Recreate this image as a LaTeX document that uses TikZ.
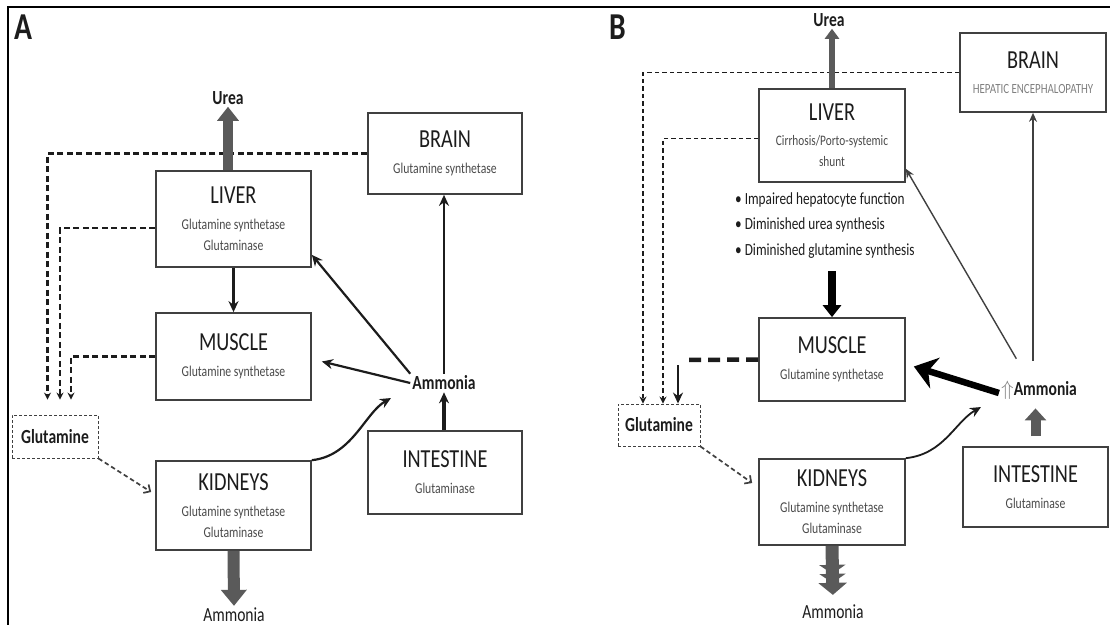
\documentclass[tikz,border=0pt]{standalone}
\usepackage{fontspec}
\setmainfont{Carlito}[FakeStretch=0.78]
\usepackage{tikz}
\usetikzlibrary{positioning, arrows.meta}
\usepackage{xcolor}

\definecolor{boxline}{HTML}{404040}
\definecolor{inktext}{HTML}{1C1C1C}
\definecolor{enzymegray}{HTML}{4A4A4A}
\definecolor{blockgray}{HTML}{5A5A5A}

\newcommand{\organtitle}{\fontsize{26}{28}\selectfont}
\newcommand{\organname}[1]{{\organtitle\color{inktext}#1}}
\newcommand{\enzymefont}{\fontsize{15}{17}\selectfont}
\newcommand{\chemfont}{\fontsize{20}{22}\selectfont\bfseries}

\tikzset{
  organ/.style={draw=boxline, line width=1.7pt, align=center, text=enzymegray, font=\enzymefont},
  chem/.style={font=\chemfont, text=inktext, inner sep=2pt},
  product/.style={font=\fontsize{20}{22}\selectfont, text=inktext, inner sep=2pt},
  glutbox/.style={draw=boxline, densely dashed, line width=0.9pt, font=\chemfont, text=inktext},
  flow/.style={draw=inktext, line width=2.2pt, -{Stealth[length=11pt,width=10pt]}},
  thinflow/.style={draw=boxline, line width=1.4pt, -{Stealth[length=9pt,width=8pt]}},
  feed/.style={draw=inktext, line width=2.4pt, dash pattern=on 6pt off 3.5pt, -{Stealth[length=7pt,width=7pt]}},
  glutflow/.style={draw=boxline, line width=1.7pt, dash pattern=on 4.5pt off 3pt, -{Straight Barb[length=5pt,width=10pt]}},
  panel/.style={font=\fontsize{38}{38}\selectfont\bfseries, text=inktext},
}

\begin{document}
\begin{tikzpicture}[x=1pt, y=-1pt]
  \useasboundingbox (0,0) rectangle (1110,625);
  \draw[line width=2pt] (1110,7) -- (8,7) -- (8,625);

  % ---------- Panel A ----------
  \node[panel] (labelA) at (23,27) {A};
  \node[organ, minimum width=154pt, minimum height=81pt] (brainA) at (445,153.5)
    {\organname{BRAIN}\\[9pt]Glutamine synthetase};
  \node[organ, minimum width=155pt, minimum height=96pt] (liverA) at (233.5,219)
    {\organname{LIVER}\\[9pt]Glutamine synthetase\\[4pt]Glutaminase};
  \node[organ, minimum width=155pt, minimum height=87pt] (muscleA) at (233.5,356.5)
    {\organname{MUSCLE}\\[9pt]Glutamine synthetase};
  \node[organ, minimum width=155pt, minimum height=89pt] (kidneysA) at (233.5,505.5)
    {\organname{KIDNEYS}\\[9pt]Glutamine synthetase\\[4pt]Glutaminase};
  \node[organ, minimum width=154pt, minimum height=83pt] (intestineA) at (445,472.5)
    {\organname{INTESTINE}\\[9pt]Glutaminase};
  \node[glutbox, minimum width=86pt, minimum height=43pt] (glutA) at (55,436.5) {Glutamine};
  \node[chem] (ammoniaA) at (444,383) {Ammonia};
  \node[chem] (ureaA) at (228,98) {Urea};
  \node[product] (ammoniaOutA) at (234,615) {Ammonia};
  \coordinate (kidneyTipA) at (391,398);

  % glutamine returned from the organs
  \draw[feed] (brainA.west) -| ([xshift=-7.5pt,yshift=15pt]glutA.north);
  \draw[feed] ([yshift=-9pt]liverA.west) -| ([xshift=5pt,yshift=15pt]glutA.north);
  \draw[feed] (muscleA.west) -| ([xshift=16pt,yshift=15pt]glutA.north);
  \draw[glutflow] (glutA.south east) -- ([xshift=-4pt,yshift=13.5pt]kidneysA.west);

  % urea and ammonia leaving
  \draw[draw=blockgray, line width=10pt, -{Triangle[length=14pt,width=21pt]}]
    (liverA.north -| ureaA) -- (ureaA.south);
  \draw[draw=blockgray, line width=12pt, -{Triangle[length=16pt,width=25pt]}]
    (kidneysA.south) -- (ammoniaOutA.north);

  % ammonia traffic
  \draw[flow] (liverA.south) -- (muscleA.north);
  \draw[flow] (ammoniaA.north) -- (ammoniaA.north |- brainA.south);
  \draw[flow] (ammoniaA.north west) -- ([yshift=13pt]liverA.south east);
  \draw[flow] (ammoniaA.west) -- ([xshift=10pt,yshift=-5pt]muscleA.east);
  \draw[flow, line width=4pt] (intestineA.north -| ammoniaA) -- (ammoniaA.south);
  \draw[flow] (kidneysA.north east) .. controls +(40,-4) and +(-26,15) .. (kidneyTipA);

  % ---------- Panel B ----------
  \node[panel] (labelB) at (618,27) {B};
  \node[organ, font=\fontsize{14}{16}\selectfont, minimum width=146pt, minimum height=79pt] (brainB) at (1033,72.5)
    {\organname{BRAIN}\\[9pt]{\color{gray}HEPATIC ENCEPHALOPATHY}};
  \node[organ, font=\fontsize{14.5}{17}\selectfont, minimum width=146pt, minimum height=93pt] (liverB) at (832,135.5)
    {\organname{LIVER}\\[8pt]Cirrhosis/Porto-systemic\\[4pt]shunt};
  \node[anchor=north west, align=left, inner sep=0pt, text=inktext, font=\fontsize{17}{25.5}\selectfont] (defectsB) at (735,192)
    {\textbullet\ Impaired hepatocyte function\\ \textbullet\ Diminished urea synthesis\\ \textbullet\ Diminished glutamine synthesis};
  \node[organ, minimum width=146pt, minimum height=83pt] (muscleB) at (832,359.5)
    {\organname{MUSCLE}\\[9pt]Glutamine synthetase};
  \node[organ, minimum width=146pt, minimum height=86pt] (kidneysB) at (832,502)
    {\organname{KIDNEYS}\\[9pt]Glutamine synthetase\\[4pt]Glutaminase};
  \node[organ, minimum width=145pt, minimum height=80pt] (intestineB) at (1035.5,487)
    {\organname{INTESTINE}\\[9pt]Glutaminase};
  \node[glutbox, minimum width=82pt, minimum height=42pt] (glutB) at (659,425) {Glutamine};
  \node[chem] (ammoniaB) at (1039,390) {{\color{gray}$\Uparrow$}Ammonia};
  \node[chem] (ureaB) at (829,20) {Urea};
  \node[product] (ammoniaOutB) at (833,612) {Ammonia};
  \coordinate (glutElbowB) at (678,360);
  \coordinate (defectsEnd) at (832,271);
  \coordinate (kidneyTipB) at (981,407);

  % glutamine returned from the organs
  \draw[feed, line width=1.7pt, dash pattern=on 4.5pt off 3pt] (brainB.west) -| ([xshift=-16pt]glutB.north);
  \draw[feed, line width=1.7pt, dash pattern=on 4.5pt off 3pt] ([yshift=-3pt]liverB.west) -| ([xshift=4pt]glutB.north);
  \draw[draw=inktext, line width=4.5pt, dash pattern=on 12pt off 7pt] (muscleB.west) -- ([xshift=8pt]glutElbowB);
  \draw[flow] ([yshift=-5pt]glutElbowB) -- (glutElbowB |- glutB.north);
  \draw[glutflow] (glutB.south east) -- ([xshift=-6pt,yshift=19pt]kidneysB.west);

  % urea and ammonia leaving
  \draw[draw=blockgray, line width=6pt, -{Triangle[length=10pt,width=14pt]}]
    (liverB.north) -- (liverB.north |- ureaB.south);
  \draw[draw=blockgray, line width=13pt, shorten >=8pt,
    -{Triangle[length=9pt,width=26pt] Triangle[length=9pt,width=26pt] Triangle[length=12pt,width=28pt]}]
    (kidneysB.south) -- (ammoniaOutB.north);

  % ammonia traffic
  \draw[draw=black, line width=8pt, -{Triangle[length=12pt,width=18pt]}] (defectsEnd) -- (muscleB.north);
  \draw[thinflow, shorten <=18pt] (brainB.south |- ammoniaB.north) -- (brainB.south);
  \draw[thinflow, shorten <=23pt] ([xshift=29pt]ammoniaB.north west) -- ([yshift=14pt]liverB.south east);
  \draw[draw=black, line width=6.5pt, -{Stealth[length=22pt,width=32pt,inset=7pt]}]
    ([yshift=-3pt]ammoniaB.west) -- ([xshift=8pt,yshift=-7pt]muscleB.east);
  \draw[draw=blockgray, line width=10pt, shorten >=7pt, -{Triangle[length=12pt,width=21pt]}]
    ([yshift=10pt]intestineB.north) -- (ammoniaB.south -| intestineB.north);
  \draw[flow, line width=1.8pt] (kidneysB.north east) .. controls +(38,-4) and +(-26,15) .. (kidneyTipB);
\end{tikzpicture}
\end{document}
